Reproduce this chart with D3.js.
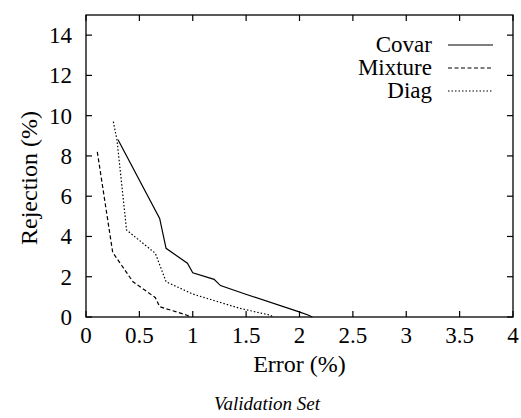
<!DOCTYPE html>
<html><head><meta charset="utf-8">
<script src="https://cdn.jsdelivr.net/npm/d3@7"></script>
</head><body>
<script>
const seriesNames = ["Covar", "Mixture", "Diag"];
const covar = [[0.30,8.8],[0.69,4.9],[0.75,3.41],[0.95,2.67],[1.0,2.2],[1.2,1.87],[1.26,1.56],[1.49,1.14],[1.99,0.27],[2.08,0.1],[2.12,0]];
const mixture = [[0.106,8.2],[0.25,3.21],[0.44,1.75],[0.65,0.96],[0.69,0.51],[0.94,0.1],[0.98,0]];
const diag = [[0.256,9.7],[0.29,8.8],[0.38,4.32],[0.65,3.16],[0.75,1.75],[1.0,1.14],[1.44,0.43],[1.72,0.1],[1.76,0]];
const xTicks = [0,0.5,1,1.5,2,2.5,3,3.5,4];
const yTicks = [0,2,4,6,8,10,12,14];
const xLabel = "Error (%)", yLabel = "Rejection (%)", caption = "Validation Set";

const FONT = "Liberation Serif, Times New Roman, serif";
const W = 521, H = 418;
const m = {l:86, r:8, t:15, b:101};
d3.select("body").style("margin","0");
const svg = d3.select("body").append("svg").attr("width", W).attr("height", H).style("display","block");
const x = d3.scaleLinear().domain([0,4]).range([m.l, W-m.r]);
const y = d3.scaleLinear().domain([0,15]).range([H-m.b, m.t]);
const dashes = [null, "4,2.5", "1.5,2"];
const data = [covar, mixture, diag];

svg.append("rect").attr("x", x(0)).attr("y", y(15)).attr("width", x(4)-x(0)).attr("height", y(0)-y(15))
  .attr("fill","none").attr("stroke","#000").attr("stroke-width",1.3);

const tl = 6;
function ticks(vals, scale, horiz, pos) {
  vals.forEach(v => {
    const p = scale(v);
    if (horiz) {
      svg.append("line").attr("x1", p).attr("x2", p).attr("y1", pos[0]).attr("y2", pos[0] - tl).attr("stroke","#000").attr("stroke-width",1.2);
      svg.append("line").attr("x1", p).attr("x2", p).attr("y1", pos[1]).attr("y2", pos[1] + tl).attr("stroke","#000").attr("stroke-width",1.2);
    } else {
      svg.append("line").attr("y1", p).attr("y2", p).attr("x1", pos[0]).attr("x2", pos[0] + tl).attr("stroke","#000").attr("stroke-width",1.2);
      svg.append("line").attr("y1", p).attr("y2", p).attr("x1", pos[1]).attr("x2", pos[1] - tl).attr("stroke","#000").attr("stroke-width",1.2);
    }
  });
}
ticks(xTicks, x, true, [y(0), y(15)]);
ticks(yTicks, y, false, [x(0), x(4)]);

xTicks.forEach(v => svg.append("text").attr("x", x(v)).attr("y", y(0) + 26).attr("text-anchor","middle")
  .attr("font-family", FONT).attr("font-size", 23).text(String(v)));
yTicks.forEach(v => svg.append("text").attr("x", x(0) - 14).attr("y", y(v) + 8).attr("text-anchor","end")
  .attr("font-family", FONT).attr("font-size", 23).text(String(v)));

const line = d3.line().x(d => x(d[0])).y(d => y(d[1]));
data.forEach((s,i) => {
  svg.append("path").datum(s).attr("d", line).attr("fill","none").attr("stroke","#000")
    .attr("stroke-width", 1.2).attr("stroke-dasharray", dashes[i]);
});

const legY = [45, 68, 91];
seriesNames.forEach((n,i) => {
  svg.append("text").attr("x", 432).attr("y", legY[i] + 7).attr("text-anchor","end")
    .attr("font-family", FONT).attr("font-size", 23).text(n);
  svg.append("line").attr("x1", 448).attr("x2", 493).attr("y1", legY[i]).attr("y2", legY[i])
    .attr("stroke","#000").attr("stroke-width",1.2).attr("stroke-dasharray", dashes[i]);
});

svg.append("text").attr("x", (x(0)+x(4))/2).attr("y", 372).attr("text-anchor","middle").attr("font-family", FONT).attr("font-size", 24).text(xLabel);
svg.append("text").attr("transform", "translate(37,178) rotate(-90)").attr("text-anchor","middle").attr("font-family", FONT).attr("font-size", 24).text(yLabel);
svg.append("text").attr("x", 267).attr("y", 410).attr("text-anchor","middle").attr("font-family", FONT).attr("font-size", 19).attr("font-style","italic").text(caption);
</script>
</body></html>
